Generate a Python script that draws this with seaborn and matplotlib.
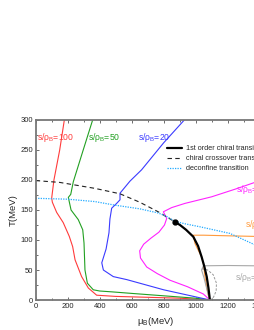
import pandas as pd
import matplotlib
matplotlib.use('Agg')
import matplotlib.pyplot as plt
import seaborn as sns
from matplotlib.ticker import MultipleLocator

# curves: mu_B (MeV), T (MeV)
red_mu = [179, 150, 114, 100, 104, 131, 172, 210, 231, 246, 287, 329, 381, 500, 700, 900, 1089]
red_T = [300, 250, 200, 170, 163, 146, 129, 106, 89, 67, 39, 20, 8, 6, 4.5, 3, 0]

green_mu = [356, 297, 235, 219, 204, 221, 266, 294, 302, 308, 323, 360, 400, 480, 600, 800, 1000, 1089]
green_T = [300, 250, 197, 176, 171, 150, 134, 117, 95, 50, 28, 17, 15, 13.5, 11, 7, 3, 0]

blue_mu = [929, 800, 662, 589, 527, 527, 506, 475, 464, 458, 440, 413, 423, 485, 569, 800, 1089]
blue_T = [300, 262, 217, 198, 178, 167, 161, 153, 135, 112, 85, 62, 50, 39, 34, 17, 0]

mag_mu = [1500, 1370, 1250, 1100, 933, 850, 798, 819, 805, 770, 720, 675, 650, 655, 694, 760, 839, 950, 1048, 1089]
mag_T = [207, 196, 185, 172, 161, 154, 147, 136, 125, 113, 103, 93, 82, 70, 55, 44, 33, 22, 10, 0]

orange_mu = [1500, 1370, 1200, 1050, 985, 996, 1016, 1037, 1048, 1058, 1070, 1079, 1089]
orange_T = [104, 106, 107, 108, 108, 94, 83, 72, 61, 39, 20, 8, 0]

gray_mu = [1500, 1370, 1200, 1048, 1037, 1052, 1070, 1085]
gray_T = [57, 57, 57.5, 57, 50, 37, 18, 2]
gray_dash_mu = [1040, 1075, 1110, 1130, 1128, 1112, 1092]
gray_dash_T = [52, 50, 42, 28, 15, 5, 0]

first_mu = [871, 902, 940, 985, 1015, 1037, 1055, 1069, 1080, 1089]
first_T = [130, 125, 117, 105.5, 90, 72, 55, 39, 20, 0]

cross_mu = [0, 150, 371, 527, 650, 766, 871]
cross_T = [199, 196, 186, 177, 163, 147, 130]

deconf_mu = [0, 200, 371, 496, 650, 766, 820, 871, 933, 1027, 1214, 1370, 1500]
deconf_T = [169.5, 168, 164, 158, 152, 145, 139, 131, 127, 122, 111, 92, 72]

cep = (871, 130)

labels = [r's/$\rho_B$=100', r's/$\rho_B$=50', r's/$\rho_B$=20', r's/$\rho_B$=10', r's/$\rho_B$=5', r's/$\rho_B$=3']
label_pos = [(8, 267), (328, 267), (640, 267), (1250, 180), (1308, 121), (1246, 33)]
colors = ['#ff3b3b', '#22a022', '#3a3aff', '#ff22ff', '#ff9a3c', '#a8a8a8']

sns.set_theme(style='ticks')
plt.rcParams['font.family'] = ['Liberation Sans', 'DejaVu Sans']
plt.rcParams['mathtext.fontset'] = 'custom'
plt.rcParams['mathtext.rm'] = 'Liberation Sans'
plt.rcParams['mathtext.it'] = 'Liberation Sans'
plt.rcParams['mathtext.default'] = 'regular'

fig = plt.figure(figsize=(2.55, 3.30), dpi=100)
ax = fig.add_axes([0.140, 0.0909, 0.941, 0.5455])

def draw(mu, T, **kw):
    df = pd.DataFrame({'mu': mu, 'T': T})
    sns.lineplot(data=df, x='mu', y='T', sort=False, estimator=None, ax=ax, **kw)

curves = [(red_mu, red_T), (green_mu, green_T), (blue_mu, blue_T),
          (mag_mu, mag_T), (orange_mu, orange_T), (gray_mu, gray_T)]
for (mu, T), c in zip(curves, colors):
    draw(mu, T, color=c, lw=0.8)
draw(gray_dash_mu, gray_dash_T, color='#999999', lw=0.7, linestyle=(0, (2.5, 1.5)))

draw(first_mu, first_T, color='black', lw=1.6, label='1st order chiral transition')
draw(cross_mu, cross_T, color='#222222', lw=0.8, linestyle=(0, (4, 3)), label='chiral crossover transition')
draw(deconf_mu, deconf_T, color='#22aaff', lw=0.9, linestyle=(0, (1, 1)), label='deconfine transition')
ax.plot([cep[0]], [cep[1]], 'o', color='black', ms=3.5)

for txt, (x, y), c in zip(labels, label_pos, colors):
    ax.text(x, y, txt, color=c, fontsize=6.2)

ax.legend(loc='upper left', bbox_to_anchor=(818, 258), bbox_transform=ax.transData,
          frameon=False, fontsize=5.2, handlelength=2.2, handletextpad=0.5,
          labelspacing=0.4, borderpad=0, borderaxespad=0)

ax.set_xlim(0, 1500)
ax.set_ylim(0, 300)
ax.xaxis.set_major_locator(MultipleLocator(200))
ax.xaxis.set_minor_locator(MultipleLocator(100))
ax.yaxis.set_major_locator(MultipleLocator(50))
ax.yaxis.set_minor_locator(MultipleLocator(25))
ax.tick_params(which='both', direction='in', top=True, right=True, labelsize=5.5, pad=2, width=0.6, color='#555555')
ax.tick_params(which='major', length=2.5)
ax.tick_params(which='minor', length=1.5)
for s in ax.spines.values():
    s.set_color('#777777')
    s.set_linewidth(1.3)
ax.set_xlabel(r'$\mu_B$(MeV)', fontsize=6.8, labelpad=4)
ax.set_ylabel('T(MeV)', fontsize=6.8, labelpad=2)

fig.savefig('out.png', dpi=100)
